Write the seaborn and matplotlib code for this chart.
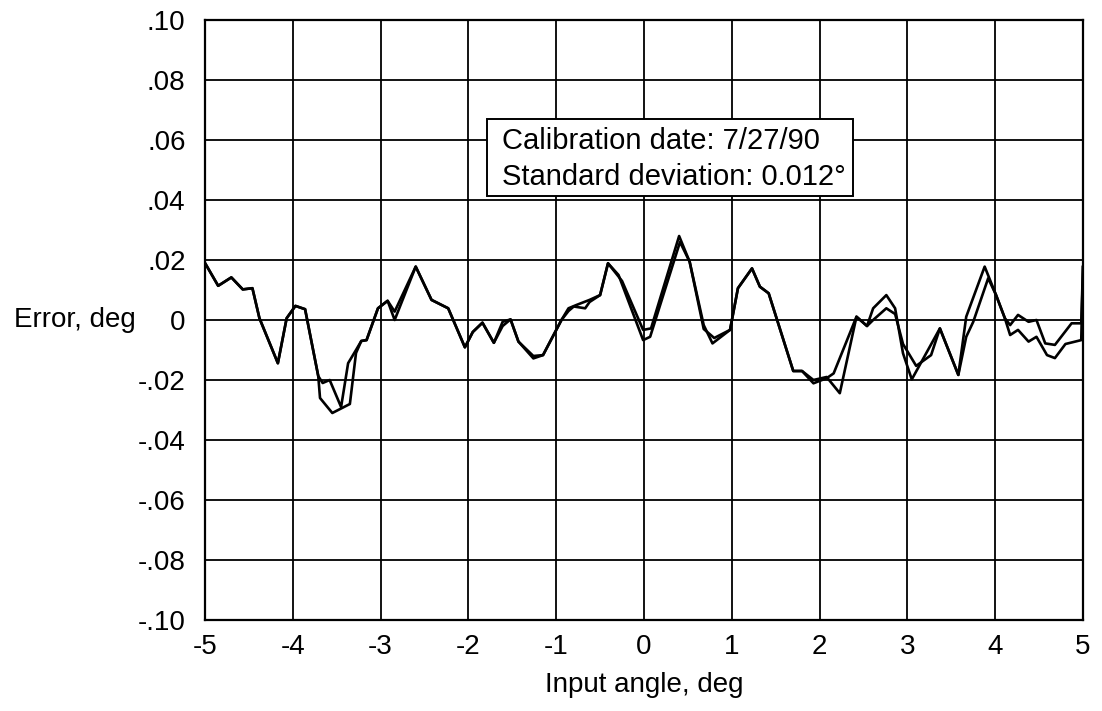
import matplotlib
matplotlib.use("Agg")
import matplotlib.pyplot as plt
from matplotlib.patches import Rectangle
import seaborn as sns
import pandas as pd

# Run A
xa = [-5.00, -4.85, -4.70, -4.57, -4.46, -4.38, -4.17, -4.07, -3.97, -3.86, -3.71,
      -3.66, -3.58, -3.45, -3.37, -3.28, -3.22, -3.16, -3.03, -2.92, -2.84,
      -2.60, -2.42, -2.23, -2.04, -1.95, -1.84, -1.71, -1.61, -1.52, -1.43,
      -1.26, -1.15, -0.94, -0.86, -0.77, -0.62, -0.50, -0.41, -0.29, -0.01,
      0.07, 0.41, 0.52, 0.68, 0.78, 0.98, 1.07, 1.23, 1.32, 1.42,
      1.70, 1.80, 1.93, 2.08, 2.16, 2.42, 2.54, 2.61, 2.76, 2.86,
      2.95, 3.05, 3.37, 3.58, 3.67, 3.88, 4.01, 4.11, 4.17, 4.26,
      4.38, 4.47, 4.57, 4.68, 4.87, 4.98, 5.00]
ya = [0.0190, 0.0114, 0.0142, 0.0102, 0.0106, 0.0006, -0.0144, 0.0006, 0.0047, 0.0036, -0.0187,
      -0.0210, -0.0200, -0.0290, -0.0144, -0.0100, -0.0070, -0.0067, 0.0039, 0.0064, 0.0000,
      0.0178, 0.0067, 0.0039, -0.0091, -0.0040, -0.0009, -0.0076, -0.0006, 0.0002, -0.0072,
      -0.0128, -0.0117, 0.0000, 0.0039, 0.0050, 0.0067, 0.0083, 0.0189, 0.0150, -0.0067,
      -0.0056, 0.0260, 0.0194, -0.0017, -0.0078, -0.0033, 0.0106, 0.0172, 0.0111, 0.0089,
      -0.0170, -0.0170, -0.0211, -0.0194, -0.0178, 0.0011, -0.0020, 0.0039, 0.0083, 0.0039,
      -0.0111, -0.0198, -0.0028, -0.0183, 0.0011, 0.0178, 0.0083, 0.0006, -0.0017, 0.0017,
      -0.0006, 0.0000, -0.0078, -0.0083, -0.0011, -0.0011, 0.0180]

# Run B
xb = [-5.00, -4.85, -4.70, -4.57, -4.46, -4.38, -4.17, -4.07, -3.97, -3.86, -3.71,
      -3.69, -3.55, -3.35, -3.28, -3.22, -3.16, -3.03, -2.92, -2.84,
      -2.60, -2.42, -2.23, -2.04, -1.95, -1.84, -1.71, -1.61, -1.52, -1.43,
      -1.26, -1.15, -0.94, -0.86, -0.80, -0.67, -0.62, -0.50, -0.41, -0.25, -0.01,
      0.08, 0.40, 0.52, 0.68, 0.80, 0.98, 1.07, 1.23, 1.32, 1.42,
      1.70, 1.80, 1.93, 2.08, 2.23, 2.42, 2.54, 2.61, 2.76, 2.86,
      2.95, 3.10, 3.27, 3.37, 3.58, 3.67, 3.75, 3.92, 4.01, 4.11, 4.17, 4.26,
      4.38, 4.47, 4.59, 4.68, 4.80, 4.98, 5.00]
yb = [0.0190, 0.0114, 0.0142, 0.0102, 0.0106, 0.0006, -0.0144, 0.0006, 0.0047, 0.0036, -0.0187,
      -0.0260, -0.0310, -0.0280, -0.0110, -0.0070, -0.0067, 0.0039, 0.0064, 0.0028,
      0.0178, 0.0067, 0.0039, -0.0091, -0.0040, -0.0009, -0.0076, -0.0020, 0.0002, -0.0072,
      -0.0120, -0.0117, 0.0000, 0.0030, 0.0045, 0.0039, 0.0060, 0.0083, 0.0189, 0.0130, -0.0033,
      -0.0028, 0.0280, 0.0194, -0.0030, -0.0060, -0.0033, 0.0106, 0.0172, 0.0111, 0.0089,
      -0.0170, -0.0170, -0.0200, -0.0190, -0.0244, 0.0011, -0.0020, 0.0000, 0.0039, 0.0020,
      -0.0080, -0.0153, -0.0117, -0.0028, -0.0183, -0.0056, -0.0006, 0.0139, 0.0083, 0.0006, -0.0050, -0.0033,
      -0.0072, -0.0056, -0.0117, -0.0127, -0.0080, -0.0067, 0.0180]

xticks = [-5, -4, -3, -2, -1, 0, 1, 2, 3, 4, 5]
yticks = [-0.10, -0.08, -0.06, -0.04, -0.02, 0.0, 0.02, 0.04, 0.06, 0.08, 0.10]
ytick_labels = ["-.10", "-.08", "-.06", "-.04", "-.02", "0", ".02", ".04", ".06", ".08", ".10"]
xtick_labels = ["-5", "-4", "-3", "-2", "-1", "0", "1", "2", "3", "4", "5"]
note_lines = ["Calibration date: 7/27/90", "Standard deviation: 0.012\u00b0"]

df = pd.concat([
    pd.DataFrame({"x": xa, "y": ya, "run": "A"}),
    pd.DataFrame({"x": xb, "y": yb, "run": "B"}),
])

sns.set_theme(style="white")
plt.rcParams["font.family"] = ["Liberation Sans", "DejaVu Sans"]

FS = 20

fig = plt.figure(figsize=(11.02, 7.11), dpi=100)
ax = fig.add_axes([205/1102, 1 - 620/711, (1083-205)/1102, 600/711])

sns.lineplot(data=df, x="x", y="y", hue="run", units="run", estimator=None, sort=False,
             palette={"A": "black", "B": "black"}, linewidth=1.9, legend=False, ax=ax)

ax.set_xlim(-5, 5)
ax.set_ylim(-0.10, 0.10)
ax.set_xticks(xticks)
ax.set_xticklabels(xtick_labels, fontsize=FS)
ax.set_yticks(yticks)
ax.set_yticklabels(ytick_labels, fontsize=FS)
ax.tick_params(axis="y", length=0, pad=14, colors="black")
ax.tick_params(axis="x", length=0, pad=10, colors="black")
ax.grid(True, color="black", linewidth=1.3)
for s in ax.spines.values():
    s.set_color("black")
    s.set_linewidth(1.6)

ax.set_xlabel("Input angle, deg", fontsize=FS, labelpad=9, color="black")
ax.set_ylabel("Error, deg", fontsize=FS, rotation=0, color="black")
ax.yaxis.set_label_coords(-0.1486, 0.5)
ax.yaxis.label.set_horizontalalignment("center")
ax.yaxis.label.set_verticalalignment("center")

# annotation box (axes coordinates)
ax.add_patch(Rectangle((0.3212, 0.7067), 0.738 - 0.3212, 0.835 - 0.7067, transform=ax.transAxes,
                       facecolor="white", edgecolor="black", linewidth=1.4, zorder=5))
ax.text(0.338, 0.785, note_lines[0], transform=ax.transAxes, fontsize=21, ha="left",
        va="baseline", color="black", zorder=6)
ax.text(0.338, 0.725, note_lines[1], transform=ax.transAxes, fontsize=21, ha="left",
        va="baseline", color="black", zorder=6)

fig.savefig("out.png", dpi=100, facecolor="white")
